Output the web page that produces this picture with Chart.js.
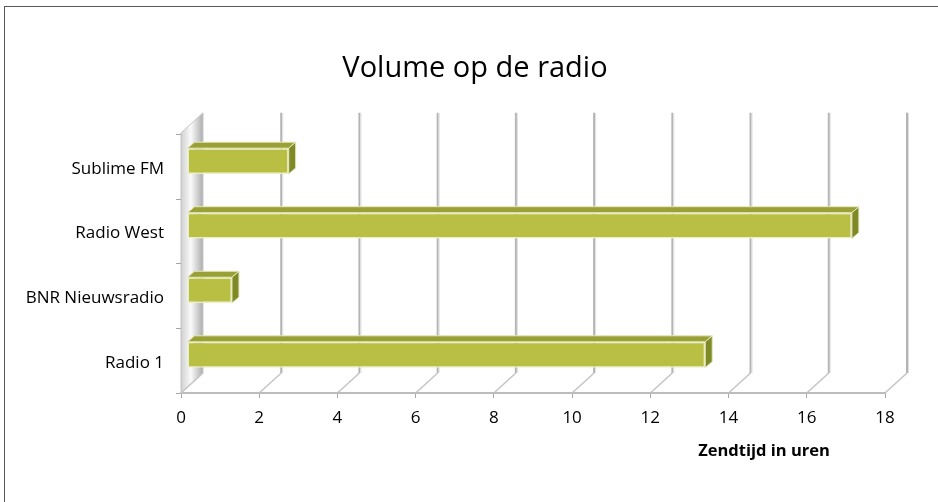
<!DOCTYPE html>
<html lang="nl">
<head>
<meta charset="utf-8">
<title>Volume op de radio</title>
<script src="https://cdn.jsdelivr.net/npm/chart.js@4.4.1/dist/chart.umd.min.js"></script>
<style>
  html, body { margin: 0; padding: 0; background: #ffffff; }
  canvas { display: block; }
</style>
</head>
<body>
<canvas id="graficoRadio" width="938" height="502"></canvas>
<script>
// === Gegevens ===
const zenders = ["Sublime FM", "Radio West", "BNR Nieuwsradio", "Radio 1"];
const zendtijd = [2.6, 17, 1.15, 13.25]; // uren
const tickWaarden = [0, 2, 4, 6, 8, 10, 12, 14, 16, 18];

const FONT = "'Open Sans', 'Liberation Sans', sans-serif";

// diepte van de 3D "kamer" en van de balken
const DIEPTE_X = 22, DIEPTE_Y = -20;
const BALK_DX = 6, BALK_DY = -6;   // verschuiving voorvlak balk
const BALK_DIEPTE_X = 7, BALK_DIEPTE_Y = -6;

// === Plugin voor wanden, vloer en 3D-balken ===
const kamer3D = {
    id: "kamer3D",
    beforeDraw(chart) {
        const ctx = chart.ctx;
        const xs = chart.scales.x, ys = chart.scales.y;
        const links = xs.getPixelForValue(tickWaarden[0]);
        const boven = ys.top - 2, onder = ys.bottom;

        ctx.save();
        // buitenrand
        ctx.strokeStyle = "#595959";
        ctx.lineWidth = 1;
        ctx.strokeRect(4.5, 6.5, 1000, 1000);

        // linker wand
        const grad = ctx.createLinearGradient(links, 0, links + DIEPTE_X, 0);
        grad.addColorStop(0, "#d0d0d0");
        grad.addColorStop(0.45, "#fafafa");
        grad.addColorStop(1, "#adadad");
        ctx.beginPath();
        ctx.moveTo(links, boven);
        ctx.lineTo(links + DIEPTE_X, boven + DIEPTE_Y);
        ctx.lineTo(links + DIEPTE_X, onder + DIEPTE_Y);
        ctx.lineTo(links, onder);
        ctx.closePath();
        ctx.fillStyle = grad;
        ctx.fill();
        ctx.strokeStyle = "#c8c8c8";
        ctx.stroke();

        // achterwand rasterlijnen + vloerlijnen
        tickWaarden.forEach(v => {
            const x = xs.getPixelForValue(v);
            if (v !== tickWaarden[0]) {
                ctx.lineWidth = 2;
                ctx.strokeStyle = "#b4b4b4";
                ctx.beginPath();
                ctx.moveTo(x + DIEPTE_X, boven + DIEPTE_Y);
                ctx.lineTo(x + DIEPTE_X, onder + DIEPTE_Y);
                ctx.stroke();
                ctx.lineWidth = 1;
                ctx.strokeStyle = "#e0e0e0";
                ctx.beginPath();
                ctx.moveTo(x + DIEPTE_X + 1.5, boven + DIEPTE_Y);
                ctx.lineTo(x + DIEPTE_X + 1.5, onder + DIEPTE_Y);
                ctx.stroke();
            }
            ctx.lineWidth = 1.5;
            ctx.strokeStyle = "#c4c4c4";
            ctx.beginPath();
            ctx.moveTo(x, onder);
            ctx.lineTo(x + DIEPTE_X, onder + DIEPTE_Y);
            ctx.stroke();
        });
        ctx.restore();
    },
    beforeDatasetsDraw(chart) {
        chart.ctx.save();
        chart.ctx.translate(BALK_DX, BALK_DY);
    },
    afterDatasetsDraw(chart) {
        const ctx = chart.ctx;
        ctx.restore();
        ctx.save();
        ctx.translate(BALK_DX, BALK_DY);
        ctx.lineWidth = 1;
        ctx.strokeStyle = "#e6e8bd";
        chart.getDatasetMeta(0).data.forEach(balk => {
            const top = balk.y - balk.height / 2;
            const bodem = balk.y + balk.height / 2;
            // bovenvlak
            ctx.beginPath();
            ctx.moveTo(balk.base, top);
            ctx.lineTo(balk.base + BALK_DIEPTE_X, top + BALK_DIEPTE_Y);
            ctx.lineTo(balk.x + BALK_DIEPTE_X, top + BALK_DIEPTE_Y);
            ctx.lineTo(balk.x, top);
            ctx.closePath();
            ctx.fillStyle = "#99a035";
            ctx.fill();
            ctx.stroke();
            // zijvlak
            ctx.beginPath();
            ctx.moveTo(balk.x, top);
            ctx.lineTo(balk.x + BALK_DIEPTE_X, top + BALK_DIEPTE_Y);
            ctx.lineTo(balk.x + BALK_DIEPTE_X, bodem + BALK_DIEPTE_Y);
            ctx.lineTo(balk.x, bodem);
            ctx.closePath();
            ctx.fillStyle = "#7f8a27";
            ctx.fill();
            ctx.stroke();
        });
        ctx.restore();
    },
    afterDraw(chart) {
        // as-titel
        const ctx = chart.ctx;
        ctx.save();
        ctx.fillStyle = "#000000";
        ctx.font = "bold 16.5px " + FONT;
        ctx.textAlign = "center";
        ctx.textBaseline = "middle";
        ctx.fillText("Zendtijd in uren", 764, 451);
        ctx.restore();
    }
};

// === Grafiek ===
const chartRadio = new Chart(document.getElementById("graficoRadio"), {
    type: "bar",
    data: {
        labels: zenders,
        datasets: [{
            label: "Zendtijd",
            data: zendtijd,
            backgroundColor: "#b9bf42",
            borderColor: "#eceec6",
            borderWidth: 1.5,
            borderSkipped: false,
            categoryPercentage: 1,
            barPercentage: 0.4
        }]
    },
    options: {
        indexAxis: "y",
        responsive: false,
        animation: false,
        layout: { padding: { left: 12, right: 0, top: 0, bottom: 0 } },
        plugins: {
            legend: { display: false },
            tooltip: { enabled: false },
            title: {
                display: true,
                text: "Volume op de radio",
                color: "#000000",
                font: { family: FONT, size: 29, weight: "normal" },
                padding: { top: 51, bottom: 49 }
            }
        },
        scales: {
            x: {
                min: tickWaarden[0],
                max: tickWaarden[tickWaarden.length - 1],
                ticks: { stepSize: tickWaarden[1] - tickWaarden[0], color: "#000000", font: { family: FONT, size: 17 }, padding: 10 },
                grid: { drawOnChartArea: false, tickLength: 5, color: "#a6a6a6" },
                border: { color: "#bdbdbd", width: 2 },
                afterFit: s => { s.height = 109; }
            },
            y: {
                ticks: { color: "#000000", font: { family: FONT, size: 17 }, padding: 12, labelOffset: 2 },
                grid: { drawOnChartArea: false, tickLength: 5, color: "#a6a6a6", offset: true },
                border: { color: "#c8c8c8", width: 1 },
                afterFit: s => { s.width = 169; }
            },
            // lege as rechts, houdt ruimte vrij voor de achterwand
            rechts: {
                type: "linear",
                position: "right",
                display: true,
                grid: { display: false },
                ticks: { display: false },
                border: { display: false },
                afterFit: s => { s.width = 53; }
            }
        }
    },
    plugins: [kamer3D]
});
</script>
</body>
</html>
